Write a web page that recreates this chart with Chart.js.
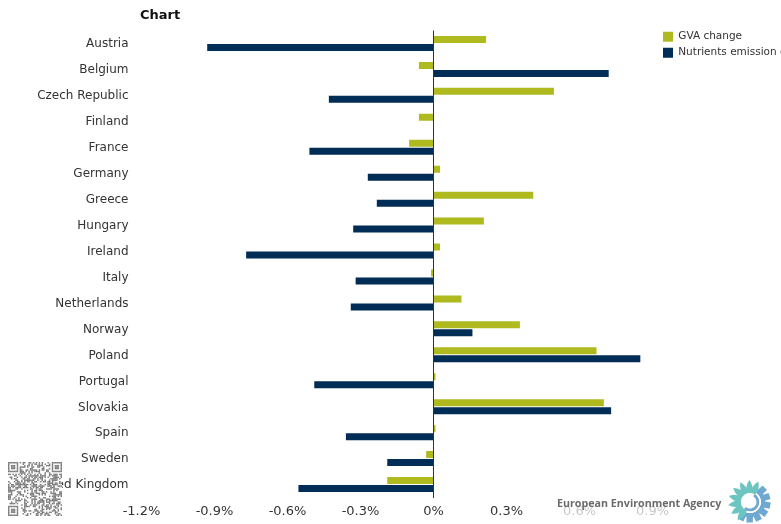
<!DOCTYPE html>
<html><head><meta charset="utf-8">
<style>html,body{margin:0;padding:0;background:#fff;overflow:hidden;width:781px;height:524px}
#w{position:absolute;left:0;top:0;width:830px;height:524px}</style>
<script src="https://cdn.jsdelivr.net/npm/chart.js@4"></script></head><body>
<div id="w"><canvas id="c" width="830" height="524" style="width:830px;height:524px"></canvas></div>
<script>
const categories=["Austria","Belgium","Czech Republic","Finland","France","Germany","Greece","Hungary","Ireland","Italy","Netherlands","Norway","Poland","Portugal","Slovakia","Spain","Sweden","United Kingdom"];
const gvaChange=[0.216,-0.06,0.495,-0.06,-0.10,0.027,0.41,0.207,0.027,-0.01,0.115,0.355,0.67,0.008,0.70,0.008,-0.03,-0.19];
const nutrientsChange=[-0.93,0.72,-0.43,0,-0.51,-0.27,-0.233,-0.33,-0.77,-0.32,-0.34,0.16,0.85,-0.49,0.73,-0.36,-0.19,-0.555];
const seriesNames=["GVA change","Nutrients emission change"];
const xTicks=[-1.2,-0.9,-0.6,-0.3,0,0.3,0.6,0.9];
const FONT="'DejaVu Sans'";

const overlay={id:'overlay',
 beforeLayout(ch){const l=ch.legend;if(l&&!l._wrapped){const f=l.fit.bind(l);l.fit=function(){f();this.width=177.5;};l._wrapped=true;}},
 afterLayout(ch){const t=ch.titleBlock;if(t){t.left=140;t.right=400;}},
 afterUpdate(ch){const l=ch.legend;l.left=657.5;l.right=830;l.top=26;l.bottom=200;l.adjustHitBoxes();},
 afterDraw(ch){const g=ch.ctx;g.save();
  // QR-style stamp, lower left
  g.fillStyle='rgba(255,255,255,0.88)';g.fillRect(8,462,54,54);
  const n=37,s=54/n;let h=12345;
  g.fillStyle='rgba(70,70,70,0.72)';
  const finder=(a,b)=>{if(a<0||b<0||a>6||b>6)return null;return(a==0||b==0||a==6||b==6||(a>=2&&a<=4&&b>=2&&b<=4));};
  for(let y=0;y<n;y++)for(let x=0;x<n;x++){
    h=(h*1103515245+12345)&0x7fffffff;
    let on=((h>>16)&1)==1;
    let f=finder(x,y);if(f===null)f=finder(x-(n-7),y);if(f===null)f=finder(x,y-(n-7));
    if(f!==null)on=f;
    else if((x==7&&(y<8||y>=n-8))||(y==7&&(x<8||x>=n-8))||(x==n-8&&y<8)||(y==n-8&&x<8))on=false;
    if(on)g.fillRect(8+x*s,462+y*s,s,s);
  }
  // agency mark, lower right
  g.fillStyle='rgba(255,255,255,0.72)';g.fillRect(552,490,229,34);
  g.fillStyle='#6b6b6b';g.font="bold 10.7px 'Open Sans'";g.textBaseline='alphabetic';g.textAlign='left';
  g.fillText('European Environment Agency',557,507);
  const cx=750,cy=502;
  g.fillStyle='#6fa8d0';
  for(let i=0;i<7;i++){const a=(-44+i*27)*Math.PI/180;
    g.save();g.translate(cx,cy);g.rotate(a);g.fillRect(11,-3.2,9.5,6.4);g.restore();}
  g.strokeStyle='#6fa8d0';g.lineWidth=4;g.beginPath();g.arc(cx,cy,13,-55*Math.PI/180,120*Math.PI/180);g.stroke();
  g.lineWidth=3;g.beginPath();g.arc(cx,cy,8,-60*Math.PI/180,130*Math.PI/180);g.stroke();
  g.strokeStyle='#fff';g.lineWidth=1.5;g.beginPath();g.arc(cx,cy,10.3,-60*Math.PI/180,120*Math.PI/180);g.stroke();
  g.fillStyle='#6cc5c1';
  for(let i=0;i<8;i++){const a=(-68-i*24)*Math.PI/180;
    g.save();g.translate(cx,cy);g.rotate(a);g.beginPath();g.moveTo(9,-2);g.quadraticCurveTo(15,-5,22,0);g.quadraticCurveTo(15,5,9,2);g.closePath();g.fill();g.restore();}
  g.restore();}
};

new Chart(document.getElementById('c'),{
 type:'bar',plugins:[overlay],
 data:{labels:categories,datasets:[
  {label:seriesNames[0],data:gvaChange,backgroundColor:'#AEBA1E',categoryPercentage:0.617,barPercentage:0.875},
  {label:seriesNames[1],data:nutrientsChange,backgroundColor:'#002D56',categoryPercentage:0.617,barPercentage:0.875}]},
 options:{indexAxis:'y',responsive:false,animation:false,devicePixelRatio:1,
  layout:{padding:0},
  plugins:{tooltip:{enabled:false},
   title:{display:true,text:'Chart',align:'start',color:'#111',font:{family:FONT,size:13,weight:'bold'},padding:{top:7.5,bottom:7.4}},
   legend:{position:'right',align:'start',labels:{boxWidth:10,boxHeight:10,padding:5.5,color:'#333',font:{family:FONT,size:10.5}}}},
  scales:{
   x:{min:-1.2,max:0.9,afterBuildTicks(a){a.ticks=xTicks.map(v=>({value:v}));},
      grid:{display:true,z:1,drawTicks:false,color:c=>c.tick&&c.tick.value===0?'#333':'rgba(0,0,0,0)',lineWidth:1},border:{display:false},
      ticks:{color:'#333',font:{family:FONT,size:13},maxRotation:0,autoSkip:false,padding:6,callback:v=>(Math.round(v*10)/10)+'%'},
      afterFit(a){a.height=26.5;}},
   y:{grid:{display:false,drawTicks:false},border:{display:false},
      ticks:{color:'#333',font:{family:FONT,size:12},autoSkip:false,padding:13,labelOffset:0.7},
      afterFit(a){a.width=141.5;}}
  }}
});
</script></body></html>
